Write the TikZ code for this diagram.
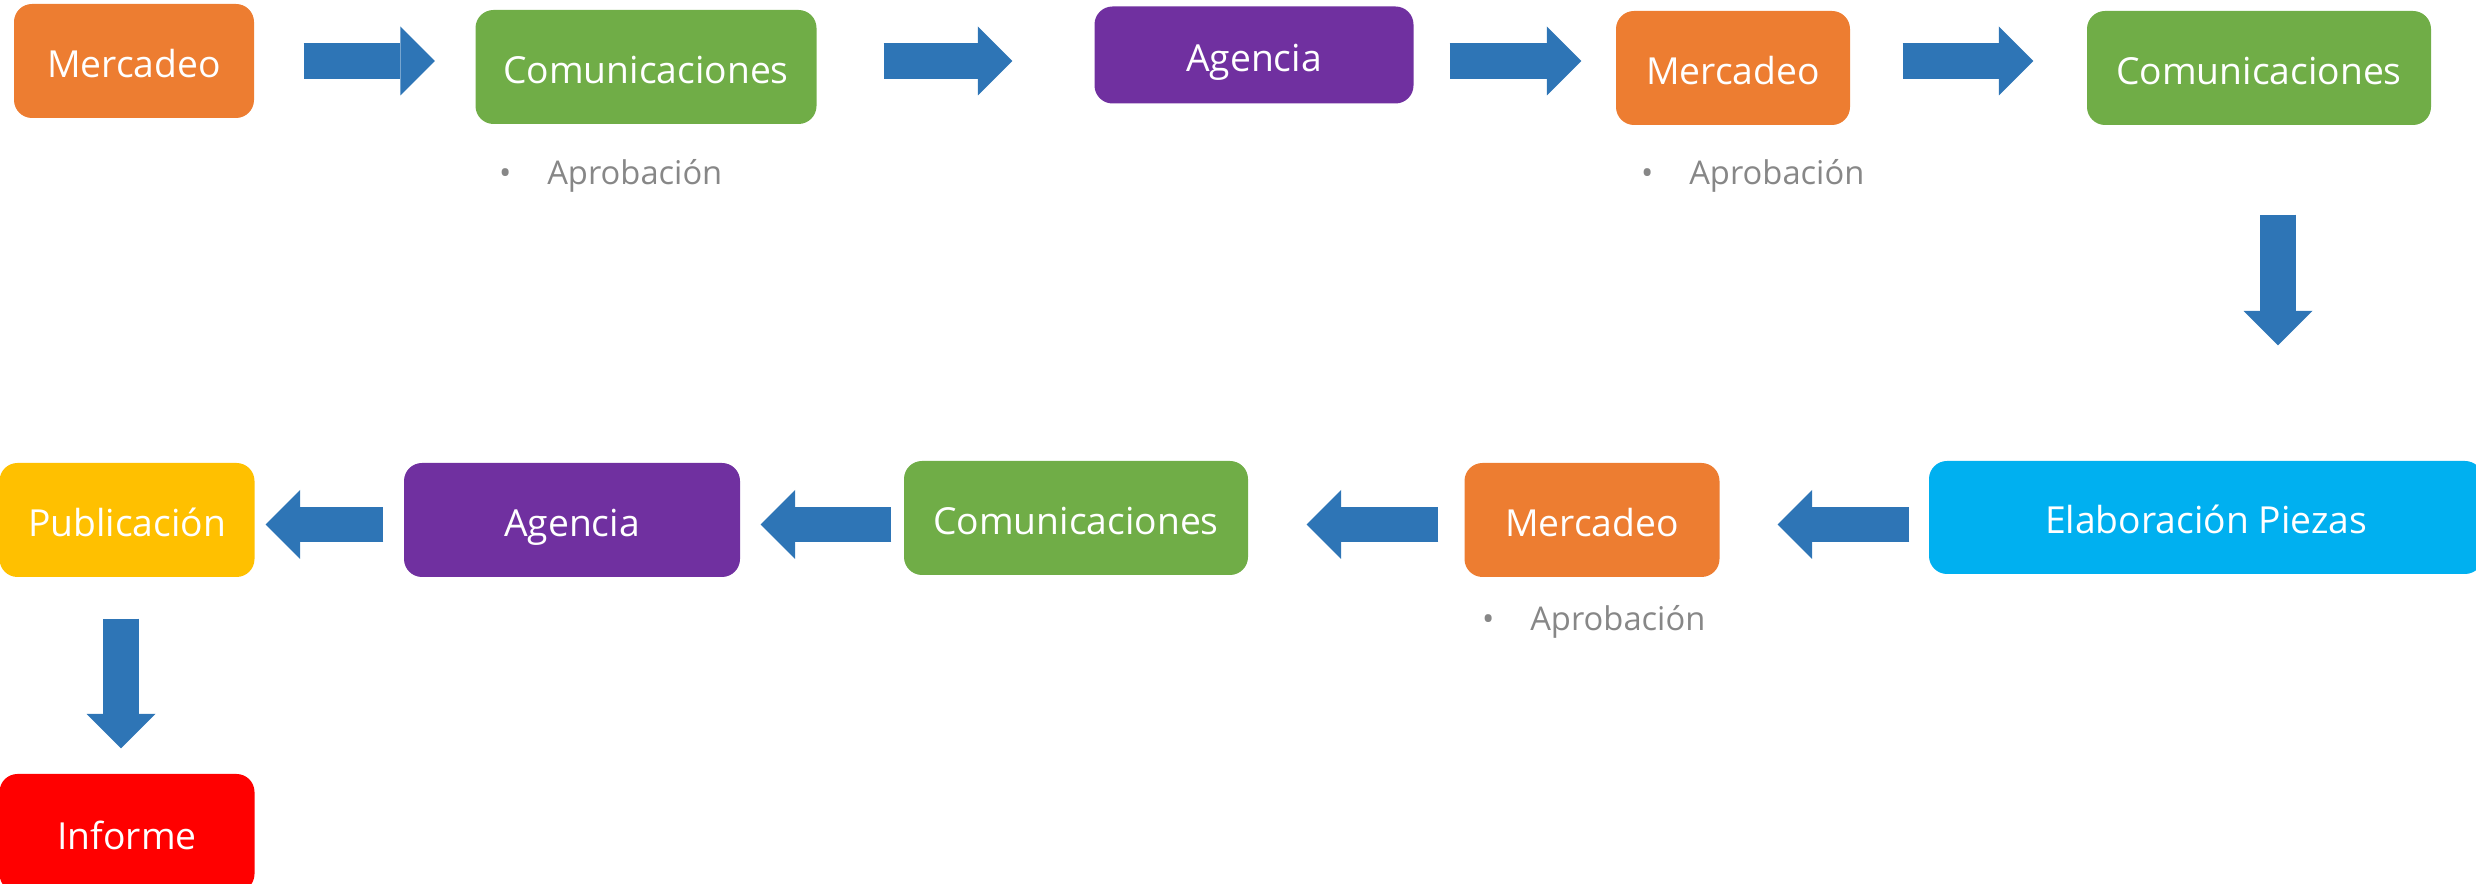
\documentclass[tikz,border=0pt]{standalone}
\usepackage{fontspec}
\setmainfont{Open Sans}
\usetikzlibrary{positioning,arrows.meta}

\definecolor{mercadeo}{HTML}{ED7D31}
\definecolor{comunic}{HTML}{70AD47}
\definecolor{agencia}{HTML}{7030A0}
\definecolor{piezas}{HTML}{00B0F0}
\definecolor{publica}{HTML}{FFC000}
\definecolor{informe}{HTML}{FF0000}
\definecolor{flecha}{HTML}{2E75B6}
\definecolor{nota}{HTML}{878787}

\begin{document}
\begin{tikzpicture}[
    boxes/.style={rectangle,rounded corners=0.18cm,fill=#1,text=white,minimum height=1.14cm,inner sep=0pt,text height=0.40cm,text depth=0.07cm,font=\fontsize{10.6pt}{12pt}\selectfont},
    notes/.style={inner sep=0pt,anchor=west,text=nota,font=\fontsize{9.3pt}{11pt}\selectfont},
    blk/.style={draw=flecha,line width=0.355cm,-{Triangle[width=0.69cm,length=0.345cm,line width=0pt]}},
  ]
\useasboundingbox (0,0) rectangle (24.76,8.84);

\node (mer1) [boxes=mercadeo,minimum width=2.40cm] at (1.34,8.23) {Mercadeo};
\node (com1) [boxes=comunic,minimum width=3.41cm] at (6.46,8.17) {Comunicaciones};
\node (age1) [boxes=agencia,minimum width=3.19cm,minimum height=0.97cm] at (12.54,8.29) {Agencia};
\node (mer2) [boxes=mercadeo,minimum width=2.34cm] at (17.33,8.16) {Mercadeo};
\node (com2) [boxes=comunic,minimum width=3.44cm] at (22.59,8.16) {Comunicaciones};

\node (apr1) [notes,right=0.235 of com1.south west,yshift=-0.51cm] {\textbullet\hspace{0.36cm}Aprobación};
\node (apr2) [notes,right=0.25 of mer2.south west,yshift=-0.50cm] {\textbullet\hspace{0.36cm}Aprobación};

\node (ela) [boxes=piezas,minimum width=5.54cm,minimum height=1.13cm] at (22.06,3.665) {Elaboración Piezas};
\node (mer3) [boxes=mercadeo,minimum width=2.55cm] at (15.92,3.64) {Mercadeo};
\node (com3) [boxes=comunic,minimum width=3.44cm] at (10.76,3.66) {Comunicaciones};
\node (age2) [boxes=agencia,minimum width=3.36cm] at (5.72,3.64) {Agencia};
\node (pub) [boxes=publica,minimum width=2.55cm] at (1.27,3.64) {Publicación};
\node (inf) [boxes=informe,minimum width=2.55cm,minimum height=1.18cm] at (1.27,0.51) {Informe};

\node (apr3) [notes,right=0.175 of mer3.south west,yshift=-0.44cm] {\textbullet\hspace{0.36cm}Aprobación};

\draw[blk,shorten <=0.49cm,shorten >=0.40cm] (mer1.east) -- (mer1.east -| com1.west);
\draw[blk,shorten <=0.665cm,shorten >=0.815cm] (com1.east |- mer1.east) -- (mer1.east -| age1.west);
\draw[blk,shorten <=0.355cm,shorten >=0.34cm] (age1.east |- mer1.east) -- (mer1.east -| mer2.west);
\draw[blk,shorten <=0.52cm,shorten >=0.53cm] (mer2.east |- mer1.east) -- (mer1.east -| com2.west);
\draw[blk,shorten <=0.89cm,shorten >=1.15cm] ([xshift=0.19cm]com2.south) -- ([xshift=0.19cm]com2.south |- ela.north);
\draw[blk,shorten <=0.19cm,shorten >=0.575cm] ([yshift=-0.07cm]ela.west) -- ([yshift=-0.07cm]ela.west -| mer3.east);
\draw[blk,shorten <=0.255cm,shorten >=0.58cm] ([yshift=-0.07cm]ela.west -| mer3.west) -- ([yshift=-0.07cm]ela.west -| com3.east);
\draw[blk,shorten <=0.12cm,shorten >=0.20cm] ([yshift=-0.07cm]ela.west -| com3.west) -- ([yshift=-0.07cm]ela.west -| age2.east);
\draw[blk,shorten <=0.20cm,shorten >=0.105cm] ([yshift=-0.07cm]ela.west -| age2.west) -- ([yshift=-0.07cm]ela.west -| pub.east);
\draw[blk,shorten <=0.41cm,shorten >=0.25cm] ([xshift=-0.06cm]pub.south) -- ([xshift=-0.06cm]pub.south |- inf.north);
\end{tikzpicture}
\end{document}
